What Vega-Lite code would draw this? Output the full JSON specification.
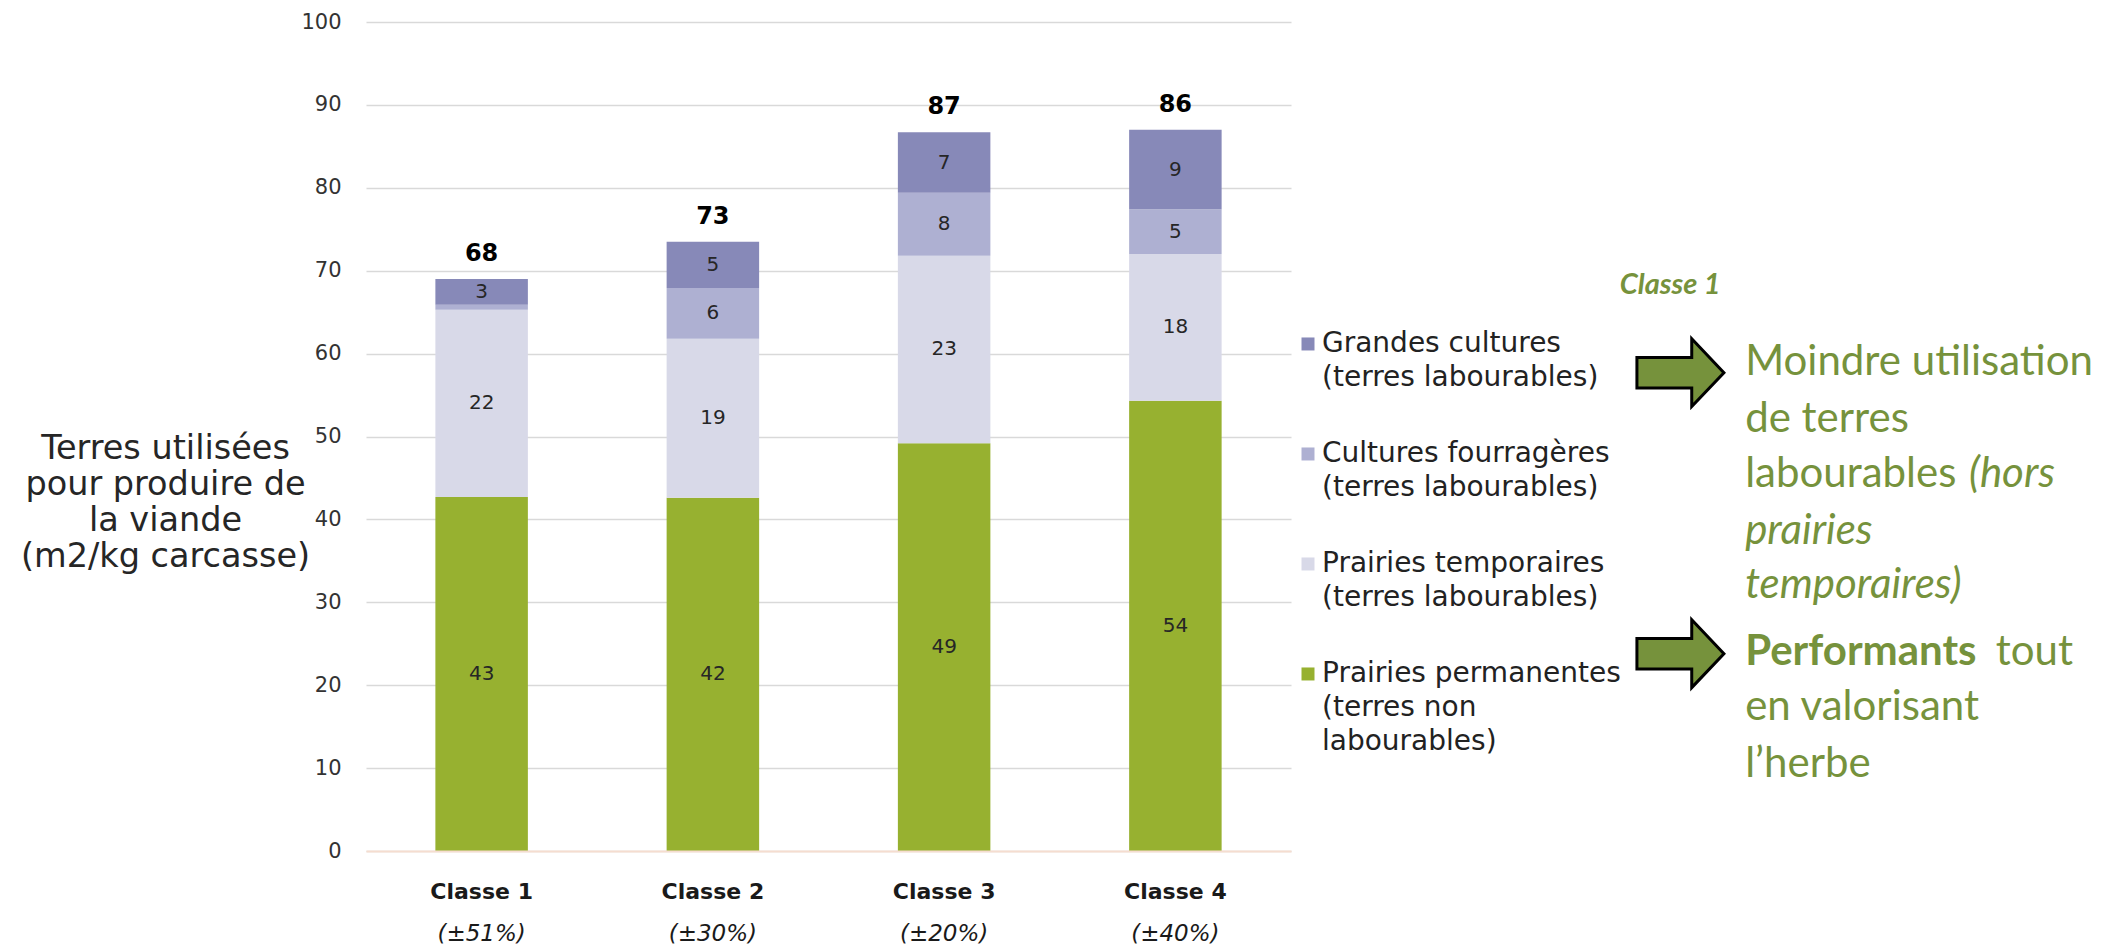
{
  "$schema": "https://vega.github.io/schema/vega-lite/v6.json",
  "autosize": {"type": "none"},
  "width": 925,
  "height": 829,
  "padding": {"left": 366, "top": 22, "right": 834, "bottom": 96},
  "background": "#ffffff",
  "config": {
    "view": {"stroke": null},
    "font": "DejaVu Sans"
  },
  "datasets": {
    "parts": [
      {"classe": "Classe 1", "categorie": "Prairies permanentes", "ordre": 1, "valeur": 42.7, "etiquette": "43"},
      {"classe": "Classe 1", "categorie": "Prairies temporaires", "ordre": 2, "valeur": 22.6, "etiquette": "22"},
      {"classe": "Classe 1", "categorie": "Cultures fourragères", "ordre": 3, "valeur": 0.6, "etiquette": ""},
      {"classe": "Classe 1", "categorie": "Grandes cultures", "ordre": 4, "valeur": 3.1, "etiquette": "3"},
      {"classe": "Classe 2", "categorie": "Prairies permanentes", "ordre": 1, "valeur": 42.6, "etiquette": "42"},
      {"classe": "Classe 2", "categorie": "Prairies temporaires", "ordre": 2, "valeur": 19.2, "etiquette": "19"},
      {"classe": "Classe 2", "categorie": "Cultures fourragères", "ordre": 3, "valeur": 6.1, "etiquette": "6"},
      {"classe": "Classe 2", "categorie": "Grandes cultures", "ordre": 4, "valeur": 5.6, "etiquette": "5"},
      {"classe": "Classe 3", "categorie": "Prairies permanentes", "ordre": 1, "valeur": 49.2, "etiquette": "49"},
      {"classe": "Classe 3", "categorie": "Prairies temporaires", "ordre": 2, "valeur": 22.6, "etiquette": "23"},
      {"classe": "Classe 3", "categorie": "Cultures fourragères", "ordre": 3, "valeur": 7.6, "etiquette": "8"},
      {"classe": "Classe 3", "categorie": "Grandes cultures", "ordre": 4, "valeur": 7.3, "etiquette": "7"},
      {"classe": "Classe 4", "categorie": "Prairies permanentes", "ordre": 1, "valeur": 54.3, "etiquette": "54"},
      {"classe": "Classe 4", "categorie": "Prairies temporaires", "ordre": 2, "valeur": 17.7, "etiquette": "18"},
      {"classe": "Classe 4", "categorie": "Cultures fourragères", "ordre": 3, "valeur": 5.4, "etiquette": "5"},
      {"classe": "Classe 4", "categorie": "Grandes cultures", "ordre": 4, "valeur": 9.6, "etiquette": "9"}
    ],
    "totaux": [
      {"classe": "Classe 1", "somme": 69.0, "total": "68"},
      {"classe": "Classe 2", "somme": 73.5, "total": "73"},
      {"classe": "Classe 3", "somme": 86.7, "total": "87"},
      {"classe": "Classe 4", "somme": 87.0, "total": "86"}
    ],
    "incert": [
      {"classe": "Classe 1", "incertitude": "(±51%)"},
      {"classe": "Classe 2", "incertitude": "(±30%)"},
      {"classe": "Classe 3", "incertitude": "(±20%)"},
      {"classe": "Classe 4", "incertitude": "(±40%)"}
    ],
    "notes": [
      {"texte": "Classe 1", "style": "titre", "ax": 141.0, "ay": 68.3},
      {"texte": "Moindre utilisation", "style": "normal", "ax": 149.1, "ay": 59.0},
      {"texte": "de terres", "style": "normal", "ax": 149.1, "ay": 52.1},
      {"texte": "labourables", "style": "normal", "ax": 149.1, "ay": 45.5},
      {"texte": "(hors", "style": "italique", "ax": 173.3, "ay": 45.5},
      {"texte": "prairies", "style": "italique", "ax": 149.1, "ay": 38.6},
      {"texte": "temporaires)", "style": "italique", "ax": 149.1, "ay": 32.1},
      {"texte": "Performants", "style": "gras", "ax": 149.1, "ay": 24.0},
      {"texte": "tout", "style": "normal", "ax": 176.2, "ay": 24.0},
      {"texte": "en valorisant", "style": "normal", "ax": 149.1, "ay": 17.4},
      {"texte": "l’herbe", "style": "normal", "ax": 149.1, "ay": 10.5}
    ],
    "fleches": [
      {"ax": 142.1, "ay": 57.7},
      {"ax": 142.1, "ay": 23.8}
    ]
  },
  "layer": [
    {
      "layer": [
        {
          "data": {"name": "parts"},
          "mark": {"type": "bar"},
          "encoding": {
            "x": {
              "field": "classe", "type": "nominal",
              "scale": {"paddingInner": 0.6, "paddingOuter": 0.3},
              "axis": {
                "title": null, "labelAngle": 0, "labelFontSize": 22, "labelFontWeight": "bold",
                "labelColor": "#1a1a1a", "labelPadding": 30, "ticks": false, "tickSize": 0,
                "domainColor": "#F5DDD0", "domainWidth": 2, "zindex": 1
              }
            },
            "y": {
              "field": "valeur", "type": "quantitative", "stack": "zero",
              "scale": {"domain": [0, 100], "nice": false},
              "axis": {
                "title": ["Terres utilisées", "pour produire de", "la viande", "(m2/kg carcasse)"],
                "titleAngle": 0, "titleAlign": "center", "titleBaseline": "top",
                "titleX": -201, "titleY": 410, "titleFontSize": 33.5, "titleFontWeight": "normal",
                "titleColor": "#262626", "titleLineHeight": 36,
                "values": [0, 10, 20, 30, 40, 50, 60, 70, 80, 90, 100],
                "grid": true, "gridColor": "#D9D9D9", "gridWidth": 1.5,
                "domain": false, "ticks": false, "labelFontSize": 21, "labelColor": "#333333", "labelPadding": 25
              }
            },
            "color": {
              "field": "categorie", "type": "nominal",
              "scale": {
                "domain": ["Grandes cultures", "Cultures fourragères", "Prairies temporaires", "Prairies permanentes"],
                "range": ["#8789B8", "#AEB0D2", "#D8D9E8", "#97B130"]
              },
              "legend": {
                "title": null, "orient": "none", "legendX": 928, "legendY": 294, "padding": 0,
                "labelFont": "DejaVu Sans", "labelFontSize": 28, "labelColor": "#222222", "labelLimit": 500,
                "labelBaseline": "top", "labelOffset": 0, "rowPadding": 34,
                "symbolType": "M -1 1.15 L 1 1.15 L 1 3.15 L -1 3.15 Z", "symbolSize": 169, "symbolStrokeWidth": 0,
                "labelExpr": "datum.label == 'Prairies permanentes' ? ['Prairies permanentes', '(terres non', 'labourables)'] : [datum.label, '(terres labourables)']",
                "encode": {"labels": {"update": {"lineHeight": {"value": 34}}}}
              }
            },
            "order": {"field": "ordre", "type": "quantitative"}
          }
        },
        {
          "data": {"name": "parts"},
          "mark": {"type": "text", "fontSize": 20, "color": "#262626", "baseline": "middle"},
          "encoding": {
            "x": {"field": "classe", "type": "nominal"},
            "y": {"field": "valeur", "type": "quantitative", "stack": "zero", "bandPosition": 0.5},
            "detail": {"field": "categorie"},
            "order": {"field": "ordre", "type": "quantitative"},
            "text": {"field": "etiquette"}
          }
        },
        {
          "data": {"name": "totaux"},
          "mark": {"type": "text", "fontSize": 24, "fontWeight": "bold", "color": "#000000", "baseline": "middle", "dy": -25},
          "encoding": {
            "x": {"field": "classe", "type": "nominal"},
            "y": {"field": "somme", "type": "quantitative"},
            "text": {"field": "total"}
          }
        },
        {
          "data": {"name": "incert"},
          "mark": {"type": "text", "fontSize": 23, "fontStyle": "italic", "color": "#1a1a1a", "baseline": "middle", "dy": 83},
          "encoding": {
            "x": {"field": "classe", "type": "nominal"},
            "y": {"datum": 0, "type": "quantitative"},
            "text": {"field": "incertitude"}
          }
        }
      ]
    },
    {
      "layer": [
        {
          "data": {"name": "fleches"},
          "mark": {
            "type": "point", "filled": true,
            "shape": "M -1 -0.35 L 0.26 -0.35 L 0.26 -0.78 L 1 0 L 0.26 0.78 L 0.26 0.35 L -1 0.35 Z",
            "size": 7569, "fill": "#76923C", "stroke": "#000000", "strokeWidth": 3, "opacity": 1
          },
          "encoding": {
            "x": {"field": "ax", "type": "quantitative", "scale": {"domain": [0, 100], "nice": false, "zero": false}, "axis": null},
            "y": {"field": "ay", "type": "quantitative"}
          }
        },
        {
          "data": {"name": "notes"},
          "transform": [{"filter": "datum.style == 'titre'"}],
          "mark": {"type": "text", "font": "Lato", "fontSize": 29, "fontWeight": "bold", "fontStyle": "italic", "color": "#76923C", "align": "center", "baseline": "middle"},
          "encoding": {
            "x": {"field": "ax", "type": "quantitative", "scale": {"domain": [0, 100], "nice": false, "zero": false}, "axis": null},
            "y": {"field": "ay", "type": "quantitative"},
            "text": {"field": "texte"}
          }
        },
        {
          "data": {"name": "notes"},
          "transform": [{"filter": "datum.style == 'normal'"}],
          "mark": {"type": "text", "font": "Lato", "fontSize": 42, "color": "#76923C", "align": "left", "baseline": "middle"},
          "encoding": {
            "x": {"field": "ax", "type": "quantitative", "scale": {"domain": [0, 100], "nice": false, "zero": false}, "axis": null},
            "y": {"field": "ay", "type": "quantitative"},
            "text": {"field": "texte"}
          }
        },
        {
          "data": {"name": "notes"},
          "transform": [{"filter": "datum.style == 'italique'"}],
          "mark": {"type": "text", "font": "Lato", "fontSize": 42, "fontStyle": "italic", "color": "#76923C", "align": "left", "baseline": "middle"},
          "encoding": {
            "x": {"field": "ax", "type": "quantitative", "scale": {"domain": [0, 100], "nice": false, "zero": false}, "axis": null},
            "y": {"field": "ay", "type": "quantitative"},
            "text": {"field": "texte"}
          }
        },
        {
          "data": {"name": "notes"},
          "transform": [{"filter": "datum.style == 'gras'"}],
          "mark": {"type": "text", "font": "Lato", "fontSize": 42, "fontWeight": "bold", "color": "#76923C", "align": "left", "baseline": "middle"},
          "encoding": {
            "x": {"field": "ax", "type": "quantitative", "scale": {"domain": [0, 100], "nice": false, "zero": false}, "axis": null},
            "y": {"field": "ay", "type": "quantitative"},
            "text": {"field": "texte"}
          }
        }
      ]
    }
  ],
  "resolve": {"scale": {"x": "independent"}}
}
